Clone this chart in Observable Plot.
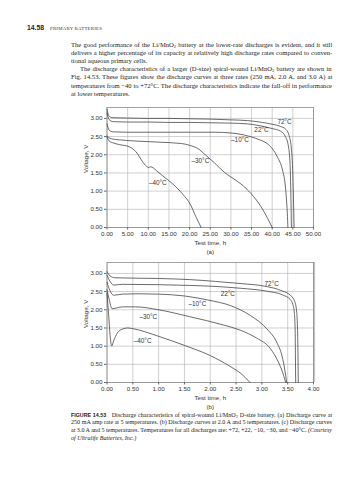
<!DOCTYPE html>
<html><head><meta charset="utf-8">
<script src="https://cdn.jsdelivr.net/npm/d3@7"></script>
<script src="https://cdn.jsdelivr.net/npm/@observablehq/plot@0.6"></script>
<style>
html,body{margin:0;padding:0;background:#fff;}
#page{position:relative;width:358px;height:480px;overflow:hidden;background:#fff;}
.hdr{position:absolute;left:27px;top:24px;font-family:"Liberation Sans",Arial,sans-serif;font-weight:bold;font-size:6.8px;line-height:8px;color:#222;}
.hdr2{position:absolute;left:50px;top:24.5px;font-family:"Liberation Serif",serif;font-size:4.8px;line-height:8px;letter-spacing:0.25px;color:#333;}
.ln,.cap{position:absolute;left:71px;font-family:"Liberation Serif","Times New Roman",serif;color:#222;white-space:nowrap;}
.ln{font-size:6.6px;line-height:8px;}
.cap{font-size:6.1px;line-height:8px;}
.fig{font-family:"Liberation Sans",Arial,sans-serif;font-weight:bold;font-size:5.3px;}
.chart{position:absolute;left:0;}
sub{font-size:70%;vertical-align:-1px;line-height:0;}
</style></head>
<body><div id="page">
<div class="hdr">14.58</div>
<div class="hdr2">PRIMARY BATTERIES</div>

<div class="ln j" style="top:40.5px">The good performance of the Li/MnO<sub>2</sub> battery at the lower-rate discharges is evident, and it still</div>
<div class="ln j" style="top:48.7px">delivers a higher percentage of its capacity at relatively high discharge rates compared to conven-</div>
<div class="ln" style="top:56.9px">tional aqueous primary cells.</div>
<div class="ln j" style="top:65.1px;left:80px" data-w="252">The discharge characteristics of a larger (D-size) spiral-wound Li/MnO<sub>2</sub> battery are shown in</div>
<div class="ln j" style="top:73.3px">Fig. 14.53. These figures show the discharge curves at three rates (250 mA, 2.0 A, and 3.0 A) at</div>
<div class="ln j" style="top:81.5px">temperatures from −40 to +72°C. The discharge characteristics indicate the fall-off in performance</div>
<div class="ln" style="top:89.7px">at lower temperatures.</div>

<div id="chartA" class="chart" style="top:95px"></div>
<div id="chartB" class="chart" style="top:249.5px"></div>

<div class="cap j" style="top:410.5px"><span class="fig">FIGURE 14.53</span>&nbsp;&nbsp; Discharge characteristics of spiral-wound Li/MnO<sub>2</sub> D-size battery. (a) Discharge curve at</div>
<div class="cap j" style="top:418.2px">250 mA amp rate at 5 temperatures. (b) Discharge curves at 2.0 A and 5 temperatures. (c) Discharge curves</div>
<div class="cap j" style="top:426px">at 3.0 A and 5 temperatures. Temperatures for all discharges are: +72, +22, −10, −30, and −40°C. <i>(Courtesy</i></div>
<div class="cap" style="top:433.7px"><i>of Ultralife Batteries, Inc.)</i></div>
</div>
<script>
// ---------- data ----------
const yTicks = [0, 0.5, 1, 1.5, 2, 2.5, 3];
const xTicksA = [0, 5, 10, 15, 20, 25, 30, 35, 40, 45, 50];
const xTicksB = [0, 0.5, 1, 1.5, 2, 2.5, 3, 3.5, 4];
const temps = ["72°C", "22°C", "–10°C", "–30°C", "–40°C"];

// (a) 250 mA : [time h, voltage V]
const a72 = [[0,3.25],[0.4,3.08],[1.2,3.02],[5,3.01],[10,3.0],[15,3.0],[20,2.99],[25,2.98],[30,2.96],[34,2.94],[37,2.9],[40,2.84],[42,2.78],[43.3,2.7],[44.1,2.52],[44.6,2.22],[44.95,1.6],[45.15,0.8],[45.3,0]];
const a22 = [[0,3.15],[0.5,2.97],[1.5,2.91],[5,2.9],[10,2.9],[15,2.89],[20,2.89],[25,2.88],[30,2.87],[34,2.85],[37,2.8],[40,2.72],[42,2.65],[43.2,2.5],[43.9,2.25],[44.3,1.8],[44.5,1.0],[44.65,0]];
const a10 = [[0,2.85],[0.5,2.68],[1.5,2.63],[5,2.62],[10,2.62],[15,2.62],[20,2.62],[26,2.62],[30,2.6],[33,2.55],[35,2.49],[37,2.41],[38.5,2.33],[40,2.17],[41.3,1.93],[42.5,1.58],[43.1,1.22],[43.5,0.7],[43.7,0.3],[43.8,0]];
const a30 = [[0,2.52],[1,2.44],[3,2.41],[6.6,2.38],[12,2.35],[18,2.31],[20,2.26],[22,2.17],[24,1.98],[26,1.78],[28.4,1.52],[30,1.39],[32.4,1.2],[34.9,0.93],[37.3,0.57],[38.9,0.25],[40,0]];
const a40 = [[0,2.5],[0.5,2.38],[1.4,2.33],[3,2.28],[5.4,2.22],[6.5,2.14],[7.5,2.01],[8.2,1.88],[9,1.75],[9.6,1.68],[10.1,1.65],[10.6,1.67],[11.2,1.64],[12,1.56],[13.5,1.42],[15.9,1.2],[18.3,0.92],[20.3,0.61],[21.5,0.3],[22.8,0]];
const aLabels = [[43.0,2.9],[37.4,2.67],[32.2,2.41],[22.6,1.84],[12.3,1.22]];

// (b) 2.0 A : [time h, voltage V]
const b72 = [[0,3.05],[0.06,2.93],[0.15,2.88],[0.5,2.87],[1.0,2.86],[1.6,2.83],[2.1,2.78],[2.6,2.72],[3.05,2.65],[3.39,2.52],[3.55,2.4],[3.63,2.25],[3.67,2.0],[3.69,1.5],[3.7,0.7],[3.705,0]];
const b22 = [[0,2.95],[0.05,2.8],[0.13,2.68],[0.3,2.7],[1.0,2.69],[1.6,2.67],[2.13,2.64],[2.6,2.59],[3.1,2.51],[3.4,2.41],[3.55,2.28],[3.6,2.15],[3.63,1.9],[3.645,1.4],[3.65,0.7],[3.655,0]];
const b10 = [[0,2.75],[0.05,2.55],[0.13,2.4],[0.3,2.43],[0.6,2.44],[1.0,2.43],[1.5,2.38],[1.95,2.27],[2.4,2.11],[2.78,1.84],[3.1,1.47],[3.29,1.1],[3.39,0.73],[3.45,0.3],[3.48,0]];
const b30 = [[0,2.55],[0.04,2.3],[0.1,2.03],[0.3,2.08],[0.55,2.08],[1.0,2.0],[1.6,1.81],[2.26,1.58],[2.58,1.44],[2.9,1.22],[3.16,0.94],[3.32,0.56],[3.42,0.2],[3.46,0]];
const b40 = [[0,2.45],[0.03,1.9],[0.06,1.3],[0.09,1.0],[0.13,1.15],[0.2,1.36],[0.3,1.47],[0.4,1.5],[0.5,1.48],[1.0,1.27],[1.5,1.02],[2.0,0.74],[2.4,0.43],[2.6,0.24],[2.77,0]];
const bLabels = [[3.19,2.71],[2.34,2.43],[1.75,2.17],[0.8,1.8],[0.69,1.14]];

// ---------- chart builder ----------
const font = '"Liberation Sans", Arial, sans-serif';
function chart(series, labels, xDomain, xTicks, xFmt, tag, extraRight) {
  const lineMarks = series.map(s => Plot.line(s, {x: d => d[0], y: d => d[1], curve: "monotone-x", stroke: "#3a3a3a", strokeWidth: 0.75}));
  const lab = labels.map((p, i) => ({t: p[0], v: p[1], s: temps[i]}));
  return Plot.plot({
    width: 358, height: 164,
    marginLeft: 106.5, marginRight: 45, marginTop: 12, marginBottom: 32,
    x: {domain: xDomain}, y: {domain: [0, 3.3]},
    style: {fontFamily: font, fontSize: "6.2px", color: "#333", background: "transparent", overflow: "visible"},
    marks: [
      Plot.gridX(xTicks, {stroke: "#b0b0b0", strokeOpacity: 1, strokeWidth: 0.6}),
      Plot.gridY(yTicks, {stroke: "#b0b0b0", strokeOpacity: 1, strokeWidth: 0.6}),
      extraRight ? Plot.ruleX([xDomain[1]], {stroke: "#c4c4c4", strokeWidth: 2, dx: 0.6}) : null,
      Plot.frame({stroke: "#8a8a8a", strokeWidth: 0.8}),
      Plot.axisX(xTicks, {tickFormat: xFmt, tickSize: 2.5, tickPadding: 1.5, label: null, stroke: "#666", fill: "#333"}),
      Plot.axisY(yTicks, {tickFormat: d3.format(".2f"), tickSize: 2.5, tickPadding: 2, label: null, stroke: "#666", fill: "#333"}),
      ...lineMarks,
      Plot.text(lab, {x: "t", y: "v", text: "s", fontSize: 6.4, fill: "#333"}),
      Plot.text(["Test time, h"], {text: d => d, frameAnchor: "bottom", dy: 17, fontSize: 6.2, fill: "#333"}),
      Plot.text([tag], {text: d => d, frameAnchor: "bottom", dy: 26, fontSize: 6.2, fill: "#333"}),
      Plot.text(["Voltage, V"], {text: d => d, y: [1.5], frameAnchor: "left", dx: -21, rotate: -90, fontSize: 6.2, fill: "#333"})
    ].filter(Boolean)
  });
}

document.getElementById("chartA").append(
  chart([a72, a22, a10, a30, a40], aLabels, [0, 50], xTicksA, d3.format(".2f"), "(a)", false));
document.getElementById("chartB").append(
  chart([b72, b22, b10, b30, b40], bLabels, [0, 4], xTicksB, d3.format(".2f"), "(b)", true));

// ---------- justify text lines ----------
document.querySelectorAll(".j").forEach(el => {
  const target = +(el.dataset.w || 261);
  const w = el.scrollWidth;
  const spaces = (el.textContent.match(/ /g) || []).length;
  let ws = (target - w) / Math.max(spaces, 1);
  if (ws < -0.8) {
    el.style.transformOrigin = "left top";
    el.style.transform = `scaleX(${(target) / (w - 0.8 * spaces)})`;
    ws = -0.8;
  }
  el.style.wordSpacing = ws + "px";
});
</script>
</body></html>
